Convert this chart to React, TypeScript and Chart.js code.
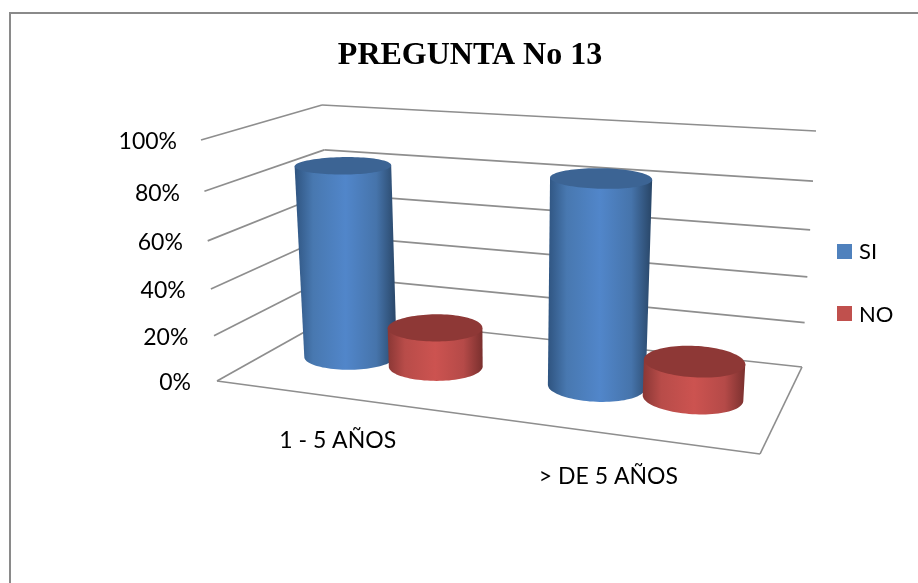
import React, { useEffect, useRef } from "react";
import { Chart, registerables } from "chart.js";

Chart.register(...registerables);

const categories = ["1 - 5 AÑOS", "> DE 5 AÑOS"];
const siValues = [0.84, 0.865];
const noValues = [0.175, 0.155];

const SI_COLOR = "#4F81BD";
const NO_COLOR = "#C0504D";
const GRID_COLOR = "#8E8E8E";
const TEXT_FONT = "Lato, Carlito, sans-serif";

type Pt = { x: number; y: number };
type Shade = { left: string; mid1: string; center: string; mid2: string; right: string; top: string };

const SHADES: Shade[] = [
  { left: "#2F5480", mid1: "#4878B0", center: "#5186CA", mid2: "#4674AB", right: "#284566", top: "#3C6494" },
  { left: "#8A3735", mid1: "#B84C49", center: "#CC5350", mid2: "#B54A48", right: "#7A302E", top: "#8E3836" },
];

// Corners of the 3D plot box on the page: floor and ceiling, front and back.
const BOX = {
  f0l: { x: 217, y: 381 },
  f0r: { x: 760, y: 454 },
  b0l: { x: 333, y: 316 },
  b0r: { x: 802, y: 367 },
  f1l: { x: 201, y: 140 },
  f1r: { x: 778, y: 184 },
  b1l: { x: 322, y: 105 },
  b1r: { x: 816, y: 131 },
};

const lerp = (a: number, b: number, t: number) => a + (b - a) * t;
const lerpPt = (a: Pt, b: Pt, t: number): Pt => ({ x: lerp(a.x, b.x, t), y: lerp(a.y, b.y, t) });
const foreshorten = (t: number, k: number) => t / (1 + k * (1 - t));

// Maps normalised box coordinates (across, depth, height) to canvas pixels.
function project(u: number, v: number, h: number): Pt {
  const uu = foreshorten(u, 0.13);
  const hh = foreshorten(h, 0.08);
  const floorFront = lerpPt(BOX.f0l, BOX.f0r, uu);
  const floorBack = lerpPt(BOX.b0l, BOX.b0r, uu);
  const topFront = lerpPt(BOX.f1l, BOX.f1r, uu);
  const topBack = lerpPt(BOX.b1l, BOX.b1r, uu);
  return lerpPt(lerpPt(floorFront, floorBack, v), lerpPt(topFront, topBack, v), hh);
}

function strokeSegment(ctx: CanvasRenderingContext2D, a: Pt, b: Pt) {
  ctx.beginPath();
  ctx.moveTo(a.x, a.y);
  ctx.lineTo(b.x, b.y);
  ctx.stroke();
}

function circlePoints(u: number, h: number, du: number): Pt[] {
  const pts: Pt[] = [];
  for (let i = 0; i < 96; i++) {
    const t = (i / 96) * Math.PI * 2;
    pts.push(project(u + du * Math.cos(t), 0.525 + 0.19 * Math.sin(t), h));
  }
  return pts;
}

function drawCylinder(ctx: CanvasRenderingContext2D, u: number, du: number, h: number, shade: Shade) {
  const bottom = circlePoints(u, 0, du);
  const top = circlePoints(u, h, du);
  const extreme = (pts: Pt[], sign: number) =>
    pts.reduce((best, p, i) => (sign * p.x > sign * pts[best].x ? i : best), 0);

  const bl = extreme(bottom, -1);
  const br = extreme(bottom, 1);
  const tl = extreme(top, -1);
  const tr = extreme(top, 1);

  // Silhouette: down the left side, along the near rim, up the right side, along the top rim.
  ctx.beginPath();
  ctx.moveTo(top[tl].x, top[tl].y);
  ctx.lineTo(bottom[bl].x, bottom[bl].y);
  const n = bottom.length;
  const stepNear = bottom[(bl + 1) % n].y > bottom[(bl - 1 + n) % n].y ? 1 : -1;
  for (let i = bl; i !== br; i = (i + stepNear + n) % n) ctx.lineTo(bottom[i].x, bottom[i].y);
  ctx.lineTo(bottom[br].x, bottom[br].y);
  ctx.lineTo(top[tr].x, top[tr].y);
  ctx.closePath();

  const x0 = Math.min(top[tl].x, bottom[bl].x);
  const x1 = Math.max(top[tr].x, bottom[br].x);
  const grad = ctx.createLinearGradient(x0, 0, x1, 0);
  grad.addColorStop(0, shade.left);
  grad.addColorStop(0.18, shade.mid1);
  grad.addColorStop(0.5, shade.center);
  grad.addColorStop(0.8, shade.mid2);
  grad.addColorStop(1, shade.right);
  ctx.fillStyle = grad;
  ctx.fill();

  ctx.beginPath();
  top.forEach((p, i) => (i ? ctx.lineTo(p.x, p.y) : ctx.moveTo(p.x, p.y)));
  ctx.closePath();
  ctx.fillStyle = shade.top;
  ctx.fill();
}

// Paints the frame, walls, floor, cylinders and legend from the layout Chart.js computes.
const cylinderScene = {
  id: "cylinderScene",
  beforeDraw(chart: Chart) {
    const { ctx, width, height } = chart;
    ctx.save();
    ctx.fillStyle = "#FFFFFF";
    ctx.fillRect(0, 0, width, height);
    ctx.strokeStyle = "#8A8A8A";
    ctx.lineWidth = 2;
    ctx.beginPath();
    ctx.moveTo(10, height);
    ctx.lineTo(10, 13);
    ctx.lineTo(width, 13);
    ctx.stroke();
    ctx.restore();
  },
  beforeDatasetsDraw(chart: Chart) {
    const { ctx, chartArea } = chart;
    const yScale = chart.scales.y;
    const xScale = chart.scales.x;
    const toU = (px: number) => (px - chartArea.left) / chartArea.width;

    ctx.save();
    ctx.strokeStyle = GRID_COLOR;
    ctx.lineWidth = 1.7;
    ctx.fillStyle = "#000000";
    ctx.font = `23px ${TEXT_FONT}`;
    ctx.textBaseline = "middle";

    yScale.ticks.forEach((tick) => {
      const h = tick.value;
      const front = project(0, 0, h);
      const backLeft = project(0, 1, h);
      const backRight = project(1, 1, h);
      strokeSegment(ctx, front, backLeft);
      strokeSegment(ctx, backLeft, backRight);
      ctx.textAlign = "right";
      ctx.fillText(String(tick.label), front.x - 26 + 2 * h, front.y + 2);
    });

    strokeSegment(ctx, project(0, 0, 0), project(1, 0, 0));
    strokeSegment(ctx, project(1, 0, 0), project(1, 1, 0));

    ctx.textAlign = "center";
    categories.forEach((label, i) => {
      const p = project(toU(xScale.getPixelForValue(i)), 0, 0);
      ctx.fillText(label, p.x - 3, p.y + 43);
    });

    // Left to right so each short cylinder overlaps its taller neighbour.
    categories.forEach((_, i) => {
      chart.data.datasets.forEach((_ds, d) => {
        const bar = chart.getDatasetMeta(d).data[i] as any;
        const h = yScale.getValueForPixel(bar.y) as number;
        drawCylinder(ctx, toU(bar.x), bar.width / chartArea.width / 2, h, SHADES[d]);
      });
    });

    // Legend keys beside the back wall.
    ctx.textAlign = "left";
    ctx.font = `22px ${TEXT_FONT}`;
    chart.data.datasets.forEach((ds, d) => {
      const top = 244 + d * 62;
      ctx.fillStyle = ds.backgroundColor as string;
      ctx.fillRect(837, top, 15, 15);
      ctx.fillStyle = "#000000";
      ctx.fillText(String(ds.label), 859, top + 8 + d);
    });
    ctx.restore();
    return false;
  },
};

export default function App() {
  const canvasRef = useRef<HTMLCanvasElement>(null);

  useEffect(() => {
    const chart = new Chart(canvasRef.current as HTMLCanvasElement, {
      type: "bar",
      data: {
        labels: categories,
        datasets: [
          { label: "SI", data: siValues, backgroundColor: SI_COLOR, categoryPercentage: 0.72, barPercentage: 1 },
          { label: "NO", data: noValues, backgroundColor: NO_COLOR, categoryPercentage: 0.72, barPercentage: 1 },
        ],
      },
      options: {
        animation: false,
        responsive: false,
        layout: { padding: { left: 22, right: 0, top: 37, bottom: 0 } },
        scales: {
          x: { display: false },
          y: {
            display: false,
            min: 0,
            max: 1,
            ticks: { stepSize: 0.2, callback: (v) => `${Math.round(Number(v) * 100)}%` },
          },
        },
        plugins: {
          title: {
            display: true,
            text: "PREGUNTA No 13",
            color: "#000000",
            font: { family: "'Liberation Serif', serif", size: 32, weight: "bold" },
            padding: { top: 0, bottom: 0 },
          },
          legend: { display: false },
          tooltip: { enabled: false },
        },
      },
      plugins: [cylinderScene],
    });
    return () => chart.destroy();
  }, []);

  return (
    <div style={{ position: "absolute", left: 0, top: 0, width: 918, height: 583 }}>
      <canvas ref={canvasRef} width={918} height={583} style={{ display: "block" }} />
    </div>
  );
}
